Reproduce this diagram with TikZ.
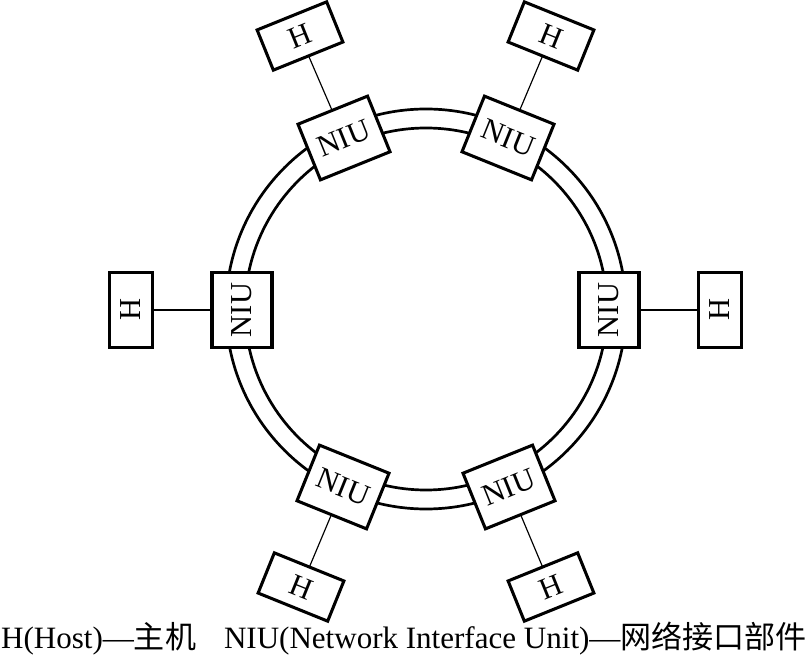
\documentclass[tikz,border=0pt]{standalone}
\usepackage{fontspec}
\setmainfont{Liberation Serif}
\newfontfamily\cjk{Noto Sans CJK SC}

\tikzset{
  niu/.style={draw,line width=2.6pt,fill=white,minimum width=2.25cm,minimum height=1.8cm,inner sep=0pt,font=\fontsize{26}{30}\selectfont},
  host/.style={draw,line width=2.6pt,fill=white,minimum width=2.25cm,minimum height=1.3cm,inner sep=0pt,font=\fontsize{26}{30}\selectfont},
  link/.style={line width=1pt},
  ring/.style={line width=2.3pt},
  caption/.style={inner sep=0pt,font=\fontsize{26.5}{30}\selectfont}
}

\begin{document}
\begin{tikzpicture}[x=0.03cm, y=-0.03cm]
  \useasboundingbox (0,0) rectangle (811,657);

  % Ring (two concentric circles)
  \coordinate (ctr) at (426,309);
  \draw[ring] (ctr) circle[radius=6cm];
  \draw[ring] (ctr) circle[radius=5.43cm];

  % Interface units on the ring, each with its host
  \foreach \i/\nx/\ny/\hx/\hy/\r in {1/344/138/300/36/22, 2/508/138/551/36/-22,
      3/242/310/131/310/90, 4/609/310/720/310/90,
      5/343/487/301/587/-22, 6/509/487/551/587/22} {
    \draw[link] (\nx,\ny) -- (\hx,\hy);
    \node[niu,rotate=\r] (n\i) at (\nx,\ny) {NIU};
    \node[host,rotate=\r] (h\i) at (\hx,\hy) {H};
  }

  % Legend
  \node[caption] (cap) at (404,639) {H(Host)—{\cjk 主机}\hspace{0.9em}NIU(Network Interface Unit)—{\cjk 网络接口部件}};
\end{tikzpicture}
\end{document}
